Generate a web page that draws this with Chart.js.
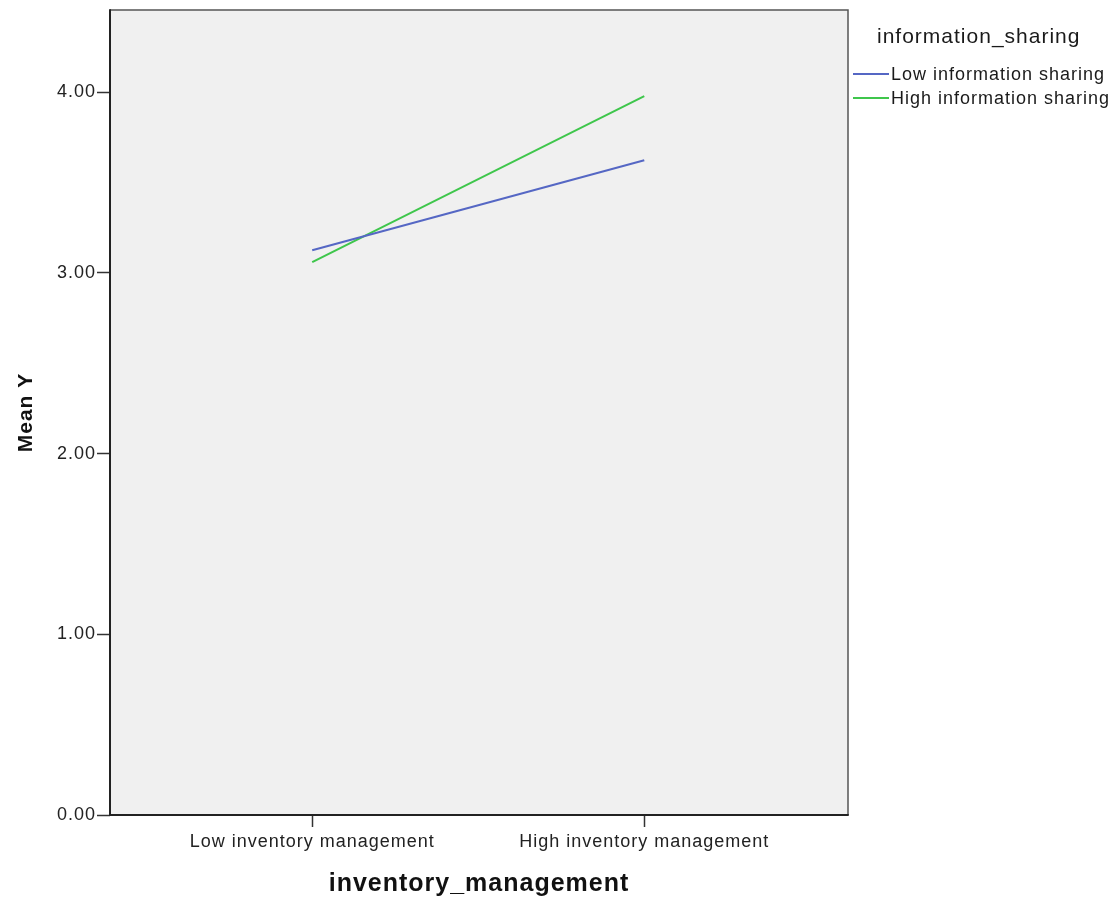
<!DOCTYPE html>
<html>
<head>
<meta charset="utf-8">
<script src="https://cdn.jsdelivr.net/npm/chart.js@4.4.1/dist/chart.umd.min.js"></script>
<style>
  html, body { margin: 0; padding: 0; background: #ffffff; }
  #wrap { width: 1119px; height: 900px; position: relative; }
</style>
</head>
<body>
<div id="wrap"><canvas id="c" width="1119" height="900"></canvas></div>
<script>
const categories = ["Low inventory management", "High inventory management"];
const seriesNames = ["Low information sharing", "High information sharing"];
const lowSharing = [3.125, 3.623];
const highSharing = [3.06, 3.978];
const yTicks = [0, 1, 2, 3, 4];
const legendTitle = "information_sharing";
const xTitle = "inventory_management";
const yTitle = "Mean Y";

const colors = ["#5567c4", "#3fc64c"];
const FONT = "'Liberation Sans', Arial, sans-serif";

function toPoints(arr) { return arr.map((v, i) => ({ x: i, y: v })); }

const spacingPlugin = {
  id: 'spacing',
  beforeDraw(chart) { chart.ctx.letterSpacing = '1px'; }
};

const bgPlugin = {
  id: 'bg',
  beforeDraw(chart) {
    const { ctx, chartArea: a } = chart;
    ctx.save();
    ctx.fillStyle = '#f0f0f0';
    ctx.fillRect(a.left, a.top, a.right - a.left, a.bottom - a.top);
    ctx.restore();
  },
  afterDraw(chart) {
    const { ctx, chartArea: a } = chart;
    ctx.save();
    // top/right frame (lighter)
    ctx.strokeStyle = '#555555';
    ctx.lineWidth = 1.5;
    ctx.beginPath();
    ctx.moveTo(a.left, a.top);
    ctx.lineTo(a.right, a.top);
    ctx.lineTo(a.right, a.bottom);
    ctx.stroke();
    // axis lines (darker)
    ctx.strokeStyle = '#222222';
    ctx.lineWidth = 2;
    ctx.beginPath();
    ctx.moveTo(a.left, a.top - 0.75);
    ctx.lineTo(a.left, a.bottom);
    ctx.lineTo(a.right + 0.75, a.bottom);
    ctx.stroke();
    // legend
    ctx.letterSpacing = '1px';
    ctx.fillStyle = '#1a1a1a';
    ctx.textBaseline = 'middle';
    ctx.textAlign = 'left';
    ctx.font = "21px " + FONT;
    ctx.fillText(legendTitle, 877, 37);
    ctx.font = "18px " + FONT;
    const ys = [74, 98];
    chart.data.datasets.forEach((ds, i) => {
      ctx.strokeStyle = ds.borderColor;
      ctx.lineWidth = 2;
      ctx.beginPath();
      ctx.moveTo(853, ys[i]);
      ctx.lineTo(889, ys[i]);
      ctx.stroke();
      ctx.fillText(ds.label, 891, ys[i] + 1);
    });
    ctx.restore();
  }
};

new Chart(document.getElementById('c'), {
  type: 'line',
  data: {
    datasets: [
      { label: seriesNames[0], data: toPoints(lowSharing), borderColor: colors[0], backgroundColor: colors[0], borderWidth: 2, pointRadius: 0, tension: 0 },
      { label: seriesNames[1], data: toPoints(highSharing), borderColor: colors[1], backgroundColor: colors[1], borderWidth: 2, pointRadius: 0, tension: 0 }
    ]
  },
  options: {
    responsive: false,
    animation: false,
    devicePixelRatio: 1,
    layout: { padding: { left: 0, right: 271, top: 10, bottom: 0 } },
    plugins: { legend: { display: false }, tooltip: { enabled: false } },
    scales: {
      x: {
        type: 'linear',
        min: -0.609,
        max: 1.6135,
        afterBuildTicks(scale) { scale.ticks = categories.map((c, i) => ({ value: i })); },
        afterFit(scale) { scale.height = 85; scale.paddingLeft = 0; scale.paddingRight = 0; },
        ticks: {
          callback: (v) => categories[v],
          color: '#222222',
          font: { family: FONT, size: 18 },
          maxRotation: 0, autoSkip: false, padding: 4
        },
        grid: { drawOnChartArea: false, tickLength: 12, color: '#333333', tickWidth: 1.5 },
        border: { display: false },
        title: { display: true, text: xTitle, color: '#111111', font: { family: FONT, size: 25, weight: 'bold' }, padding: { top: 0, bottom: 1 } }
      },
      y: {
        min: 0,
        max: 4.455,
        afterBuildTicks(scale) { scale.ticks = yTicks.map(v => ({ value: v })); },
        afterFit(scale) { scale.width = 110; scale.paddingTop = 0; scale.paddingBottom = 0; },
        ticks: {
          callback: (v) => v.toFixed(2),
          color: '#222222',
          font: { family: FONT, size: 18 },
          padding: 1
        },
        grid: { drawOnChartArea: false, tickLength: 13, color: '#333333', tickWidth: 1.5 },
        border: { display: false },
        title: { display: true, text: yTitle, color: '#111111', font: { family: FONT, size: 21, weight: 'bold' }, padding: { top: 14, bottom: 0 } }
      }
    }
  },
  plugins: [spacingPlugin, bgPlugin]
});
</script>
</body>
</html>
